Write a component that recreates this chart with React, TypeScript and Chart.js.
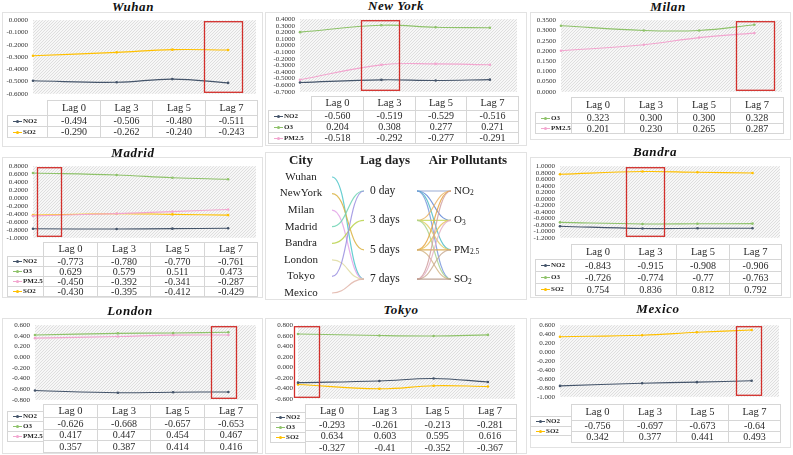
import React, { useEffect, useRef } from "react";
import { Chart, registerables } from "chart.js";
Chart.register(...registerables);

// ---------- data ----------
const lagDays = [0, 3, 5, 7];
const lagLabels = ["Lag 0", "Lag 3", "Lag 5", "Lag 7"];

const wuhanNO2 = ["-0.494", "-0.506", "-0.480", "-0.511"];
const wuhanSO2 = ["-0.290", "-0.262", "-0.240", "-0.243"];
const newYorkNO2 = ["-0.560", "-0.519", "-0.529", "-0.516"];
const newYorkO3 = ["0.204", "0.308", "0.277", "0.271"];
const newYorkPM25 = ["-0.518", "-0.292", "-0.277", "-0.291"];
const milanO3 = ["0.323", "0.300", "0.300", "0.328"];
const milanPM25 = ["0.201", "0.230", "0.265", "0.287"];
const madridNO2 = ["-0.773", "-0.780", "-0.770", "-0.761"];
const madridO3 = ["0.629", "0.579", "0.511", "0.473"];
const madridPM25 = ["-0.450", "-0.392", "-0.341", "-0.287"];
const madridSO2 = ["-0.430", "-0.395", "-0.412", "-0.429"];
const bandraNO2 = ["-0.843", "-0.915", "-0.908", "-0.906"];
const bandraO3 = ["-0.726", "-0.774", "-0.77", "-0.763"];
const bandraSO2 = ["0.754", "0.836", "0.812", "0.792"];
const londonNO2 = ["-0.626", "-0.668", "-0.657", "-0.653"];
const londonO3 = ["0.417", "0.447", "0.454", "0.467"];
const londonPM25 = ["0.357", "0.387", "0.414", "0.416"];
const tokyoNO2 = ["-0.293", "-0.261", "-0.213", "-0.281"];
const tokyoO3 = ["0.634", "0.603", "0.595", "0.616"];
const tokyoSO2 = ["-0.327", "-0.41", "-0.352", "-0.367"];
const mexicoNO2 = ["-0.756", "-0.697", "-0.673", "-0.64"];
const mexicoSO2 = ["0.342", "0.377", "0.441", "0.493"];

// sankey data
const cityNames = ["Wuhan", "NewYork", "Milan", "Madrid", "Bandra", "London", "Tokyo", "Mexico"];
const lagNodeLabels = ["0 day", "3 days", "5 days", "7 days"];
const pollutantBase = ["NO", "O", "PM", "SO"];
const pollutantSub = ["2", "3", "2.5", "2"];
const cityToLag = [3, 2, 3, 0, 1, 3, 0, 3];
const lagToPollutantFrom = [0, 0, 0, 0, 1, 1, 1, 1, 2, 2, 2, 2, 3, 3, 3, 3];
const lagToPollutantTo = [0, 1, 2, 3, 0, 1, 2, 3, 0, 1, 2, 3, 0, 1, 2, 3];

// ---------- styles ----------
const FONT = "'Liberation Serif', 'Times New Roman', serif";
const COL = { NO2: "#44546a", O3: "#8ec26a", PM25: "#f2a6cf", SO2: "#ffc000" };
const cityLinkColors = ["#4cc6c9", "#d9b23e", "#e2a2e6", "#6fd3b4", "#b9d24a", "#dedba0", "#9a8fe0", "#e0b4a8"];
const lagLinkColors = [
  "#8a9ccc", "#5f86d6", "#4fbcc4", "#7a98dc",
  "#eab466", "#c6d95e", "#e2d06a", "#a9d38c",
  "#e5a443", "#e9c25a", "#d7a341", "#d3b585",
  "#d1a0a0", "#e3b2c4", "#c9aa92", "#b39484",
];

const PAD = 6;
const YW = 32;

type S = { name: string; values: string[]; color: string };
type P = {
  title: string; series: S[]; yMin: number; yMax: number; yStep: number; dec: number;
  box: [number, number]; titleX: number; titleY: number;
  plot: [number, number, number, number]; frame: [number, number, number, number];
  tableLeft: number; legendLeft: number; headerTop: number; headerH: number; rowH: number;
  legendTop: number; legendRowH: number;
};

const panels: P[] = [
  {
    title: "Wuhan", series: [
      { name: "NO2", values: wuhanNO2, color: COL.NO2 },
      { name: "SO2", values: wuhanSO2, color: COL.SO2 }],
    yMin: -0.6, yMax: 0, yStep: 0.1, dec: 4, box: [6.14, 7.5], titleX: 133, titleY: 7,
    plot: [33, 17, 257, 97], frame: [2, 12, 261, 135], tableLeft: 47, legendLeft: 7,
    headerTop: 100, headerH: 15, rowH: 11, legendTop: 115, legendRowH: 11,
  },
  {
    title: "New York", series: [
      { name: "NO2", values: newYorkNO2, color: COL.NO2 },
      { name: "O3", values: newYorkO3, color: COL.O3 },
      { name: "PM2.5", values: newYorkPM25, color: COL.PM25 }],
    yMin: -0.7, yMax: 0.4, yStep: 0.1, dec: 4, box: [2.24, 3.63], titleX: 396, titleY: 6,
    plot: [300, 16, 518, 95], frame: [265, 12, 262, 134], tableLeft: 311, legendLeft: 268,
    headerTop: 96, headerH: 14, rowH: 11, legendTop: 110, legendRowH: 11,
  },
  {
    title: "Milan", series: [
      { name: "O3", values: milanO3, color: COL.O3 },
      { name: "PM2.5", values: milanPM25, color: COL.PM25 }],
    yMin: 0, yMax: 0.35, yStep: 0.05, dec: 4, box: [6.34, 7.71], titleX: 668, titleY: 7,
    plot: [561, 17, 783, 95], frame: [530, 12, 261, 128], tableLeft: 571, legendLeft: 535,
    headerTop: 97, headerH: 15, rowH: 10.5, legendTop: 112, legendRowH: 10.5,
  },
  {
    title: "Madrid", series: [
      { name: "NO2", values: madridNO2, color: COL.NO2 },
      { name: "O3", values: madridO3, color: COL.O3 },
      { name: "PM2.5", values: madridPM25, color: COL.PM25 },
      { name: "SO2", values: madridSO2, color: COL.SO2 }],
    yMin: -1.0, yMax: 0.8, yStep: 0.2, dec: 4, box: [0.14, 1.0], titleX: 133, titleY: 153,
    plot: [33, 163, 257, 241], frame: [2, 157, 261, 141], tableLeft: 43, legendLeft: 7,
    headerTop: 242, headerH: 14, rowH: 10, legendTop: 256, legendRowH: 10,
  },
  {
    title: "Bandra", series: [
      { name: "NO2", values: bandraNO2, color: COL.NO2 },
      { name: "O3", values: bandraO3, color: COL.O3 },
      { name: "SO2", values: bandraSO2, color: COL.SO2 }],
    yMin: -1.2, yMax: 1.0, yStep: 0.2, dec: 4, box: [2.39, 3.77], titleX: 655, titleY: 152,
    plot: [560, 163, 781, 241], frame: [530, 157, 261, 141], tableLeft: 571, legendLeft: 535,
    headerTop: 244, headerH: 15, rowH: 12, legendTop: 259, legendRowH: 12,
  },
  {
    title: "London", series: [
      { name: "NO2", values: londonNO2, color: COL.NO2 },
      { name: "O3", values: londonO3, color: COL.O3 },
      { name: "PM2.5", values: londonPM25, color: COL.PM25 }],
    yMin: -0.8, yMax: 0.6, yStep: 0.2, dec: 3, box: [6.38, 7.28], titleX: 130, titleY: 311,
    plot: [35, 322, 257, 403], frame: [2, 318, 261, 136], tableLeft: 43, legendLeft: 7,
    headerTop: 404, headerH: 13, rowH: 11.5, legendTop: 411, legendRowH: 10,
  },
  {
    title: "Tokyo", series: [
      { name: "NO2", values: tokyoNO2, color: COL.NO2 },
      { name: "O3", values: tokyoO3, color: COL.O3 },
      { name: "SO2", values: tokyoSO2, color: COL.SO2 }],
    yMin: -0.6, yMax: 0.8, yStep: 0.2, dec: 3, box: [-0.15, 0.77], titleX: 401, titleY: 310,
    plot: [298, 322, 516, 402], frame: [265, 318, 262, 136], tableLeft: 305, legendLeft: 270,
    headerTop: 404, headerH: 14, rowH: 11.5, legendTop: 412, legendRowH: 10,
  },
  {
    title: "Mexico", series: [
      { name: "NO2", values: mexicoNO2, color: COL.NO2 },
      { name: "SO2", values: mexicoSO2, color: COL.SO2 }],
    yMin: -1.0, yMax: 0.6, yStep: 0.2, dec: 3, box: [6.44, 7.35], titleX: 658, titleY: 309,
    plot: [560, 322, 780, 400], frame: [530, 318, 261, 130], tableLeft: 571, legendLeft: 530,
    headerTop: 404, headerH: 16, rowH: 11, legendTop: 416, legendRowH: 9.5,
  },
];

// ---------- plugins ----------
let hatchPattern: CanvasPattern | null = null;
const hatchPlugin = {
  id: "hatch",
  beforeDatasetsDraw(chart: any) {
    const { ctx, chartArea: a } = chart;
    if (!hatchPattern) {
      const c = document.createElement("canvas");
      c.width = 3; c.height = 3;
      const p = c.getContext("2d")!;
      p.fillStyle = "#f7f7f7"; p.fillRect(0, 0, 3, 3);
      p.fillStyle = "#dedede";
      for (let i = 0; i < 3; i++) p.fillRect(i, 2 - i, 1, 1);
      hatchPattern = ctx.createPattern(c, "repeat");
    }
    ctx.save();
    ctx.fillStyle = hatchPattern;
    ctx.fillRect(a.left, a.top, a.right - a.left, a.bottom - a.top);
    ctx.restore();
  },
};
const boxPlugin = {
  id: "lagBox",
  afterDatasetsDraw(chart: any, _args: any, opts: any) {
    const { ctx, chartArea: a, scales } = chart;
    const x0 = scales.x.getPixelForValue(opts.range[0]);
    const x1 = scales.x.getPixelForValue(opts.range[1]);
    ctx.save();
    ctx.strokeStyle = "#d2302c";
    ctx.lineWidth = 1.3;
    ctx.strokeRect(Math.round(x0) + 0.5, a.top + 1.5, Math.round(x1 - x0), a.bottom - a.top - 3);
    ctx.restore();
  },
};

function PanelChart({ cfg }: { cfg: P }) {
  const ref = useRef<HTMLCanvasElement>(null);
  const [pl, pt, pr, pb] = cfg.plot;
  const left = pl - YW;
  const width = pr - left + 3;
  const height = pb - pt + PAD * 2;
  useEffect(() => {
    const chart = new Chart(ref.current!, {
      type: "line",
      data: {
        datasets: cfg.series.map((s) => ({
          label: s.name,
          data: s.values.map((v, i) => ({ x: lagDays[i], y: Number(v) })),
          borderColor: s.color,
          backgroundColor: s.color,
          borderWidth: 1.1,
          pointRadius: 1.3,
          pointBorderWidth: 0,
          tension: 0.4,
          clip: 3,
        })),
      },
      options: {
        animation: false,
        responsive: false,
        events: [],
        layout: { padding: { top: PAD, bottom: PAD, left: 0, right: 3 } },
        plugins: {
          legend: { display: false },
          tooltip: { enabled: false },
          lagBox: { range: cfg.box },
        } as any,
        scales: {
          x: { type: "linear", min: 0, max: 8, display: false },
          y: {
            min: cfg.yMin, max: cfg.yMax,
            afterFit: (s: any) => { s.width = YW; },
            grid: { display: false, drawTicks: false },
            border: { display: false },
            ticks: {
              stepSize: cfg.yStep,
              autoSkip: false,
              padding: 5,
              color: "#333",
              font: { family: FONT, size: 7 },
              callback: (v: any) => {
                const n = Number(v);
                return (Math.abs(n) < 1e-9 ? 0 : n).toFixed(cfg.dec);
              },
            },
          },
        },
      },
      plugins: [hatchPlugin, boxPlugin],
    });
    return () => chart.destroy();
  }, []);
  return (
    <canvas ref={ref} width={width} height={height}
      style={{ position: "absolute", left, top: pt - PAD, width, height }} />
  );
}

const cellBase: React.CSSProperties = {
  position: "absolute", boxSizing: "border-box", border: "1px solid #d6d6d6",
  display: "flex", alignItems: "center", justifyContent: "center",
  fontFamily: FONT, color: "#2a2a2a", lineHeight: 1, whiteSpace: "nowrap",
};

function Panel({ cfg }: { cfg: P }) {
  const [, , pr] = cfg.plot;
  const colW = (pr - cfg.tableLeft) / 4;
  const [fx, fy, fw, fh] = cfg.frame;
  const cells: React.ReactNode[] = [];
  lagLabels.forEach((l, i) => {
    const x0 = Math.round(cfg.tableLeft + i * colW);
    const x1 = Math.round(cfg.tableLeft + (i + 1) * colW);
    cells.push(
      <div key={"h" + i} style={{ ...cellBase, left: x0, top: cfg.headerTop, width: x1 - x0 + 1, height: cfg.headerH + 1, fontSize: 10.5 }}>{l}</div>
    );
    cfg.series.forEach((s, r) => {
      const y0 = Math.round(cfg.headerTop + cfg.headerH + r * cfg.rowH);
      const y1 = Math.round(cfg.headerTop + cfg.headerH + (r + 1) * cfg.rowH);
      cells.push(
        <div key={"c" + i + "_" + r} style={{ ...cellBase, left: x0, top: y0, width: x1 - x0 + 1, height: y1 - y0 + 1, fontSize: 10 }}>{s.values[i]}</div>
      );
    });
  });
  cfg.series.forEach((s, r) => {
    const y0 = Math.round(cfg.legendTop + r * cfg.legendRowH);
    const y1 = Math.round(cfg.legendTop + (r + 1) * cfg.legendRowH);
    cells.push(
      <div key={"l" + r} style={{ ...cellBase, justifyContent: "flex-start", paddingLeft: 5, left: cfg.legendLeft, top: y0, width: cfg.tableLeft - cfg.legendLeft + 1, height: y1 - y0 + 1, fontSize: 7, fontWeight: "bold" }}>
        <span style={{ position: "relative", display: "inline-block", width: 9, height: 1, background: s.color, marginRight: 1 }}>
          <span style={{ position: "absolute", left: 3, top: -1, width: 3, height: 3, borderRadius: 2, background: s.color }} />
        </span>
        {s.name}
      </div>
    );
  });
  return (
    <>
      <div style={{ position: "absolute", left: fx, top: fy, width: fw, height: fh, border: "1px solid #e2e2e2", boxSizing: "border-box" }} />
      <div style={{ position: "absolute", left: cfg.titleX - 60, top: cfg.titleY - 8, width: 120, height: 16, textAlign: "center", fontFamily: FONT, fontWeight: "bold", fontStyle: "italic", fontSize: 13, lineHeight: "16px", color: "#111", letterSpacing: 0.6 }}>{cfg.title}</div>
      <PanelChart cfg={cfg} />
      {cells}
    </>
  );
}

// ---------- sankey ----------
const sankeyPlugin = {
  id: "sankeyDraw",
  afterDraw(chart: any) {
    const { ctx, scales } = chart;
    const sx = (v: number) => scales.x.getPixelForValue(v);
    const sy = (v: number) => scales.y.getPixelForValue(v);
    const cityY = (i: number) => 29 + i * 16.57;
    const lagY = (j: number) => 43 + j * 29.4;
    const polY = (k: number) => 43 + k * 29.4;
    const link = (x0: number, y0: number, x1: number, y1: number, color: string) => {
      const xm = (x0 + x1) / 2;
      ctx.beginPath();
      ctx.moveTo(sx(x0), sy(y0));
      ctx.bezierCurveTo(sx(xm), sy(y0), sx(xm), sy(y1), sx(x1), sy(y1));
      ctx.strokeStyle = color;
      ctx.lineWidth = 1.2;
      ctx.globalAlpha = 0.85;
      ctx.stroke();
      ctx.globalAlpha = 1;
    };
    ctx.save();
    cityToLag.forEach((j, i) => link(69, cityY(i), 101, lagY(j), cityLinkColors[i]));
    lagToPollutantFrom.forEach((j, n) => link(154, lagY(j), 188, polY(lagToPollutantTo[n]), lagLinkColors[n]));
    ctx.fillStyle = "#222";
    ctx.textBaseline = "middle";
    ctx.textAlign = "center";
    ctx.font = `bold 13px ${FONT}`;
    ctx.fillText("City", sx(38), sy(13));
    ctx.fillText("Lag days", sx(122), sy(13));
    ctx.fillText("Air Pollutants", sx(205), sy(13));
    ctx.font = `11px ${FONT}`;
    cityNames.forEach((c, i) => ctx.fillText(c, sx(38), sy(cityY(i))));
    ctx.textAlign = "left";
    ctx.font = `11.5px ${FONT}`;
    lagNodeLabels.forEach((l, j) => ctx.fillText(l, sx(107), sy(lagY(j))));
    pollutantBase.forEach((b, k) => {
      ctx.font = `11px ${FONT}`;
      const x = sx(191);
      ctx.fillText(b, x, sy(polY(k)));
      const w = ctx.measureText(b).width;
      ctx.font = `7.5px ${FONT}`;
      ctx.fillText(pollutantSub[k], x + w, sy(polY(k) + 2.5));
    });
    ctx.restore();
  },
};

function Sankey() {
  const ref = useRef<HTMLCanvasElement>(null);
  useEffect(() => {
    const chart = new Chart(ref.current!, {
      type: "scatter",
      data: { datasets: [] },
      options: {
        animation: false,
        responsive: false,
        events: [],
        layout: { padding: 0 },
        plugins: { legend: { display: false }, tooltip: { enabled: false } },
        scales: {
          x: { type: "linear", min: 0, max: 265, display: false },
          y: { type: "linear", min: 0, max: 152, reverse: true, display: false },
        },
      },
      plugins: [sankeyPlugin],
    });
    return () => chart.destroy();
  }, []);
  return (
    <>
      <div style={{ position: "absolute", left: 265, top: 152, width: 262, height: 148, border: "1px solid #e2e2e2", boxSizing: "border-box" }} />
      <canvas ref={ref} width={265} height={152} style={{ position: "absolute", left: 263, top: 148, width: 265, height: 152 }} />
    </>
  );
}

export default function App() {
  return (
    <div style={{ position: "absolute", left: 0, top: 0, width: 793, height: 455, background: "#fff", overflow: "hidden" }}>
      {panels.map((p) => <Panel key={p.title} cfg={p} />)}
      <Sankey />
    </div>
  );
}
